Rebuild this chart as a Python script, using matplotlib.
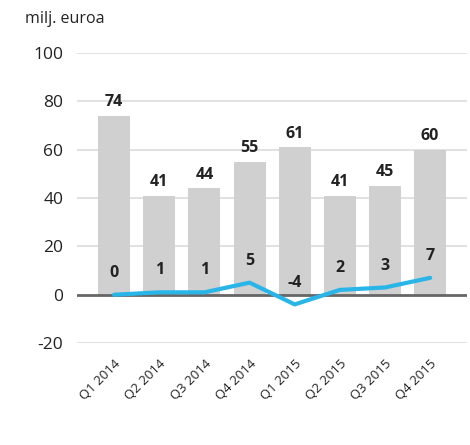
import numpy as np
import matplotlib.pyplot as plt

plt.rcParams['font.family'] = ['Open Sans', 'DejaVu Sans']
plt.rcParams['axes.unicode_minus'] = False

quarters = ["Q1 2014", "Q2 2014", "Q3 2014", "Q4 2014",
            "Q1 2015", "Q2 2015", "Q3 2015", "Q4 2015"]
bar_values = [74, 41, 44, 55, 61, 41, 45, 60]
line_values = [0, 1, 1, 5, -4, 2, 3, 7]

x = np.arange(len(quarters))

fig = plt.figure(figsize=(4.7, 4.45), dpi=100)
ax = fig.add_axes([0.164, 0.229, 0.83, 0.652])

ax.set_ylim(-20, 100)
ax.set_xlim(-0.82, 7.82)
ax.set_yticks(range(-20, 101, 20))
for yv in range(-20, 101, 20):
    if yv != 0:
        ax.axhline(yv, color='#dcdcdc', lw=1.2, zorder=0)

ax.bar(x, bar_values, width=0.71, color='#d0d0d0', zorder=1)
ax.axhline(0, color='#666666', lw=2, zorder=2)
ax.plot(x, line_values, color='#29b5e8', lw=3, solid_capstyle='round',
        solid_joinstyle='round', zorder=3)

for xi, v in zip(x, bar_values):
    ax.annotate(str(v), (xi, v), xytext=(0, 4), textcoords='offset points',
                ha='center', va='bottom', fontsize=11.5, fontweight='bold',
                color='#222222')
for xi, v in zip(x, line_values):
    ax.annotate(str(v), (xi, v), xytext=(0, 10), textcoords='offset points',
                ha='center', va='bottom', fontsize=11.5, fontweight='bold',
                color='#222222')

ax.set_xticks(x)
ax.set_xticklabels(quarters, rotation=45, ha='right', rotation_mode='anchor',
                   fontsize=9.5, color='#222222')
ax.tick_params(axis='y', labelsize=12.5, colors='#222222', length=0, pad=10)
ax.tick_params(axis='x', length=0, pad=10)
for s in ax.spines.values():
    s.set_visible(False)

fig.text(0.053, 0.958, "milj. euroa", fontsize=11.5, color='#222222',
         ha='left', va='center')

fig.savefig("out.png", dpi=100)
